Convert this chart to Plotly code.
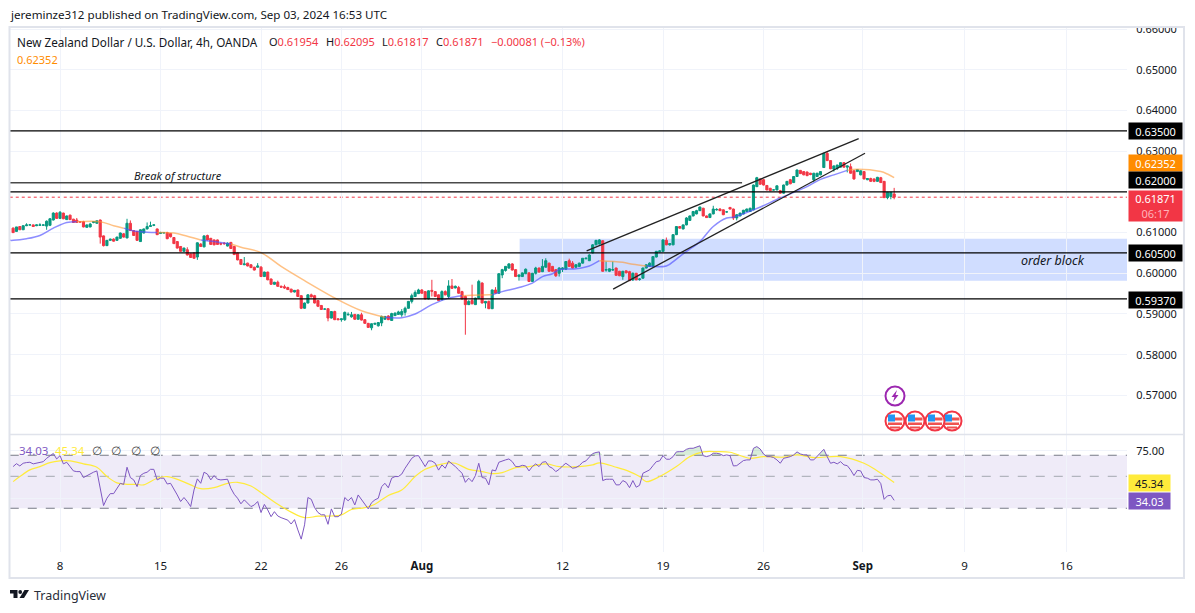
#!/usr/bin/env python3
"""NZD/USD 4h avec RSI - vue TradingView"""

import plotly.graph_objects as go
from plotly.subplots import make_subplots

# Bougies 4h (index de barre 0..263, les week-ends sont retirés)
opens = [
    0.6111, 0.6103, 0.6115, 0.6107, 0.6117, 0.6119, 0.6119, 0.6117, 0.6118, 0.6118,
    0.6116, 0.6118, 0.6131, 0.6148, 0.6135, 0.6148, 0.6132, 0.6143, 0.6133, 0.6131,
    0.6127, 0.6127, 0.6113, 0.6114, 0.6125, 0.6123, 0.6131, 0.6092, 0.6068, 0.6081,
    0.6084, 0.6081, 0.6086, 0.6097, 0.6087, 0.6123, 0.6105, 0.6103, 0.6078, 0.6099,
    0.6109, 0.6115, 0.6118, 0.6109, 0.6098, 0.6099, 0.6100, 0.6098, 0.6088, 0.6078,
    0.6066, 0.6054, 0.6058, 0.6048, 0.6050, 0.6040, 0.6072, 0.6065, 0.6093, 0.6086,
    0.6082, 0.6082, 0.6073, 0.6074, 0.6067, 0.6076, 0.6066, 0.6050, 0.6034, 0.6021,
    0.6025, 0.6021, 0.6015, 0.6015, 0.6015, 0.5992, 0.6003, 0.5986, 0.5973, 0.5978,
    0.5968, 0.5967, 0.5965, 0.5961, 0.5954, 0.5959, 0.5945, 0.5914, 0.5927, 0.5947,
    0.5945, 0.5933, 0.5921, 0.5912, 0.5913, 0.5890, 0.5906, 0.5888, 0.5886, 0.5886,
    0.5898, 0.5893, 0.5899, 0.5887, 0.5898, 0.5886, 0.5877, 0.5866, 0.5875, 0.5871,
    0.5878, 0.5887, 0.5895, 0.5884, 0.5896, 0.5899, 0.5898, 0.5904, 0.5914, 0.5931,
    0.5943, 0.5950, 0.5959, 0.5955, 0.5937, 0.5958, 0.5955, 0.5947, 0.5935, 0.5955,
    0.5943, 0.5969, 0.5964, 0.5965, 0.5955, 0.5943, 0.5923, 0.5933, 0.5923, 0.5939,
    0.5976, 0.5927, 0.5931, 0.5913, 0.5959, 0.5951, 0.5996, 0.6007, 0.6013, 0.6023,
    0.6009, 0.5992, 0.5992, 0.5999, 0.6001, 0.5980, 0.6000, 0.6013, 0.6004, 0.6015,
    0.6025, 0.6017, 0.6009, 0.6000, 0.6010, 0.6010, 0.6031, 0.6025, 0.6015, 0.6017,
    0.6025, 0.6036, 0.6031, 0.6050, 0.6070, 0.6072, 0.6080, 0.6008, 0.6005, 0.6008,
    0.6013, 0.6005, 0.5992, 0.6006, 0.6004, 0.5984, 0.6000, 0.5985, 0.5988, 0.6013,
    0.6017, 0.6017, 0.6040, 0.6053, 0.6054, 0.6081, 0.6070, 0.6070, 0.6095, 0.6115,
    0.6109, 0.6119, 0.6130, 0.6141, 0.6146, 0.6154, 0.6160, 0.6141, 0.6137, 0.6146,
    0.6156, 0.6158, 0.6156, 0.6151, 0.6162, 0.6158, 0.6136, 0.6141, 0.6146, 0.6152,
    0.6152, 0.6156, 0.6213, 0.6232, 0.6230, 0.6216, 0.6209, 0.6205, 0.6205, 0.6203,
    0.6197, 0.6217, 0.6230, 0.6223, 0.6238, 0.6253, 0.6250, 0.6249, 0.6246, 0.6230,
    0.6238, 0.6242, 0.6260, 0.6295, 0.6277, 0.6256, 0.6258, 0.6261, 0.6272, 0.6261,
    0.6262, 0.6252, 0.6250, 0.6242, 0.6250, 0.6230, 0.6233, 0.6232, 0.6226, 0.6235,
    0.6226, 0.6186, 0.6189, 0.6195,
]
highs = [
    0.6113, 0.6114, 0.6116, 0.6118, 0.6123, 0.6120, 0.6120, 0.6120, 0.6123, 0.6120,
    0.6130, 0.6136, 0.6150, 0.6150, 0.6153, 0.6149, 0.6142, 0.6144, 0.6134, 0.6136,
    0.6128, 0.6129, 0.6120, 0.6124, 0.6128, 0.6130, 0.6132, 0.6093, 0.6082, 0.6085,
    0.6086, 0.6090, 0.6100, 0.6099, 0.6134, 0.6130, 0.6106, 0.6104, 0.6108, 0.6110,
    0.6125, 0.6127, 0.6120, 0.6110, 0.6102, 0.6101, 0.6102, 0.6099, 0.6089, 0.6079,
    0.6067, 0.6063, 0.6064, 0.6049, 0.6051, 0.6076, 0.6074, 0.6093, 0.6095, 0.6087,
    0.6083, 0.6083, 0.6076, 0.6077, 0.6076, 0.6077, 0.6067, 0.6051, 0.6035, 0.6040,
    0.6026, 0.6022, 0.6016, 0.6025, 0.6018, 0.6004, 0.6004, 0.5987, 0.5979, 0.5982,
    0.5970, 0.5972, 0.5967, 0.5962, 0.5959, 0.5960, 0.5946, 0.5928, 0.5949, 0.5950,
    0.5947, 0.5934, 0.5922, 0.5914, 0.5914, 0.5907, 0.5908, 0.5890, 0.5888, 0.5906,
    0.5904, 0.5905, 0.5900, 0.5899, 0.5903, 0.5887, 0.5878, 0.5877, 0.5878, 0.5880,
    0.5896, 0.5895, 0.5897, 0.5903, 0.5904, 0.5908, 0.5912, 0.5918, 0.5932, 0.5950,
    0.5958, 0.5962, 0.5961, 0.5956, 0.5958, 0.5984, 0.5956, 0.5948, 0.5958, 0.5958,
    0.5983, 0.5986, 0.5970, 0.5969, 0.5957, 0.5945, 0.5934, 0.5972, 0.5940, 0.5984,
    0.5978, 0.5932, 0.5933, 0.5960, 0.5966, 0.6000, 0.6011, 0.6018, 0.6025, 0.6025,
    0.6010, 0.5997, 0.6002, 0.6012, 0.6003, 0.6001, 0.6016, 0.6014, 0.6035, 0.6037,
    0.6026, 0.6018, 0.6010, 0.6015, 0.6015, 0.6030, 0.6036, 0.6030, 0.6022, 0.6026,
    0.6037, 0.6039, 0.6047, 0.6072, 0.6082, 0.6084, 0.6081, 0.6029, 0.6012, 0.6029,
    0.6014, 0.6006, 0.6006, 0.6007, 0.6006, 0.6002, 0.6001, 0.5988, 0.6014, 0.6022,
    0.6027, 0.6042, 0.6055, 0.6057, 0.6084, 0.6088, 0.6074, 0.6096, 0.6116, 0.6116,
    0.6120, 0.6138, 0.6142, 0.6153, 0.6156, 0.6164, 0.6161, 0.6142, 0.6147, 0.6166,
    0.6160, 0.6160, 0.6157, 0.6153, 0.6163, 0.6159, 0.6145, 0.6149, 0.6156, 0.6159,
    0.6161, 0.6218, 0.6237, 0.6233, 0.6232, 0.6217, 0.6210, 0.6207, 0.6216, 0.6205,
    0.6218, 0.6227, 0.6232, 0.6239, 0.6255, 0.6254, 0.6251, 0.6250, 0.6247, 0.6247,
    0.6247, 0.6251, 0.6296, 0.6300, 0.6278, 0.6265, 0.6267, 0.6273, 0.6273, 0.6265,
    0.6270, 0.6253, 0.6255, 0.6253, 0.6251, 0.6234, 0.6235, 0.6233, 0.6237, 0.6237,
    0.6227, 0.6200, 0.6200, 0.6210,
]
lows = [
    0.6099, 0.6102, 0.6107, 0.6107, 0.6116, 0.6118, 0.6114, 0.6116, 0.6117, 0.6117,
    0.6107, 0.6116, 0.6130, 0.6134, 0.6134, 0.6133, 0.6131, 0.6131, 0.6124, 0.6124,
    0.6125, 0.6113, 0.6112, 0.6113, 0.6123, 0.6122, 0.6073, 0.6066, 0.6067, 0.6080,
    0.6078, 0.6080, 0.6085, 0.6088, 0.6086, 0.6104, 0.6092, 0.6080, 0.6077, 0.6098,
    0.6108, 0.6114, 0.6116, 0.6094, 0.6097, 0.6098, 0.6084, 0.6088, 0.6072, 0.6061,
    0.6053, 0.6053, 0.6044, 0.6038, 0.6036, 0.6033, 0.6065, 0.6064, 0.6081, 0.6070,
    0.6069, 0.6070, 0.6069, 0.6070, 0.6066, 0.6060, 0.6045, 0.6032, 0.6021, 0.6020,
    0.6017, 0.6013, 0.6007, 0.6014, 0.5991, 0.5991, 0.5983, 0.5972, 0.5972, 0.5967,
    0.5965, 0.5962, 0.5959, 0.5953, 0.5953, 0.5942, 0.5912, 0.5913, 0.5926, 0.5941,
    0.5926, 0.5917, 0.5910, 0.5910, 0.5882, 0.5889, 0.5885, 0.5885, 0.5881, 0.5883,
    0.5896, 0.5891, 0.5886, 0.5886, 0.5884, 0.5876, 0.5866, 0.5860, 0.5873, 0.5869,
    0.5870, 0.5886, 0.5885, 0.5883, 0.5895, 0.5898, 0.5893, 0.5896, 0.5913, 0.5926,
    0.5942, 0.5949, 0.5950, 0.5936, 0.5936, 0.5943, 0.5942, 0.5932, 0.5934, 0.5946,
    0.5937, 0.5962, 0.5963, 0.5950, 0.5936, 0.5849, 0.5922, 0.5924, 0.5922, 0.5938,
    0.5926, 0.5914, 0.5912, 0.5912, 0.5950, 0.5950, 0.5988, 0.6004, 0.6011, 0.6007,
    0.5991, 0.5982, 0.5991, 0.5998, 0.5979, 0.5979, 0.5997, 0.6002, 0.6003, 0.6014,
    0.6004, 0.6004, 0.5991, 0.5992, 0.6003, 0.6008, 0.6016, 0.6012, 0.6013, 0.6016,
    0.6024, 0.6034, 0.6030, 0.6049, 0.6069, 0.6071, 0.6004, 0.6004, 0.6003, 0.6006,
    0.5994, 0.5993, 0.5984, 0.6000, 0.5981, 0.5981, 0.5983, 0.5982, 0.5987, 0.6012,
    0.6016, 0.6016, 0.6039, 0.6052, 0.6053, 0.6069, 0.6068, 0.6069, 0.6094, 0.6110,
    0.6108, 0.6118, 0.6129, 0.6140, 0.6145, 0.6153, 0.6140, 0.6136, 0.6136, 0.6145,
    0.6154, 0.6153, 0.6143, 0.6149, 0.6157, 0.6131, 0.6130, 0.6140, 0.6145, 0.6151,
    0.6151, 0.6155, 0.6212, 0.6218, 0.6216, 0.6204, 0.6202, 0.6204, 0.6204, 0.6196,
    0.6196, 0.6216, 0.6219, 0.6222, 0.6237, 0.6244, 0.6241, 0.6239, 0.6241, 0.6224,
    0.6237, 0.6241, 0.6259, 0.6276, 0.6256, 0.6250, 0.6254, 0.6260, 0.6260, 0.6248,
    0.6245, 0.6230, 0.6249, 0.6241, 0.6231, 0.6229, 0.6225, 0.6224, 0.6225, 0.6222,
    0.6185, 0.6182, 0.6182, 0.6182,
]
closes = [
    0.6100, 0.6114, 0.6107, 0.6117, 0.6119, 0.6119, 0.6115, 0.6119, 0.6119, 0.6119,
    0.6128, 0.6134, 0.6148, 0.6135, 0.6150, 0.6134, 0.6141, 0.6132, 0.6125, 0.6125,
    0.6126, 0.6114, 0.6119, 0.6121, 0.6127, 0.6129, 0.6089, 0.6068, 0.6081, 0.6084,
    0.6079, 0.6089, 0.6099, 0.6089, 0.6123, 0.6105, 0.6093, 0.6081, 0.6107, 0.6109,
    0.6115, 0.6117, 0.6119, 0.6095, 0.6100, 0.6100, 0.6085, 0.6090, 0.6073, 0.6062,
    0.6054, 0.6062, 0.6045, 0.6039, 0.6037, 0.6075, 0.6066, 0.6092, 0.6082, 0.6071,
    0.6070, 0.6071, 0.6072, 0.6073, 0.6074, 0.6061, 0.6046, 0.6033, 0.6022, 0.6023,
    0.6018, 0.6014, 0.6008, 0.6018, 0.5992, 0.6003, 0.5984, 0.5973, 0.5978, 0.5968,
    0.5966, 0.5964, 0.5960, 0.5954, 0.5958, 0.5943, 0.5914, 0.5927, 0.5947, 0.5942,
    0.5927, 0.5919, 0.5911, 0.5912, 0.5890, 0.5906, 0.5886, 0.5886, 0.5888, 0.5904,
    0.5899, 0.5898, 0.5887, 0.5898, 0.5885, 0.5877, 0.5867, 0.5876, 0.5877, 0.5879,
    0.5894, 0.5894, 0.5886, 0.5901, 0.5902, 0.5905, 0.5906, 0.5914, 0.5931, 0.5945,
    0.5953, 0.5959, 0.5951, 0.5937, 0.5957, 0.5956, 0.5943, 0.5933, 0.5955, 0.5947,
    0.5969, 0.5963, 0.5968, 0.5951, 0.5937, 0.5923, 0.5931, 0.5925, 0.5939, 0.5980,
    0.5927, 0.5931, 0.5913, 0.5959, 0.5951, 0.5999, 0.6009, 0.6017, 0.6023, 0.6008,
    0.5992, 0.5996, 0.6001, 0.6010, 0.5980, 0.6000, 0.6013, 0.6003, 0.6017, 0.6031,
    0.6005, 0.6005, 0.5994, 0.6013, 0.6013, 0.6029, 0.6017, 0.6013, 0.6021, 0.6025,
    0.6037, 0.6037, 0.6045, 0.6070, 0.6081, 0.6082, 0.6005, 0.6009, 0.6011, 0.6009,
    0.5995, 0.5994, 0.6005, 0.6001, 0.5982, 0.6000, 0.5984, 0.5986, 0.6013, 0.6021,
    0.6025, 0.6041, 0.6054, 0.6055, 0.6082, 0.6070, 0.6073, 0.6095, 0.6115, 0.6111,
    0.6119, 0.6136, 0.6141, 0.6152, 0.6154, 0.6163, 0.6141, 0.6137, 0.6146, 0.6158,
    0.6157, 0.6154, 0.6144, 0.6151, 0.6158, 0.6136, 0.6144, 0.6148, 0.6155, 0.6158,
    0.6160, 0.6217, 0.6235, 0.6219, 0.6217, 0.6205, 0.6203, 0.6205, 0.6215, 0.6197,
    0.6217, 0.6226, 0.6220, 0.6238, 0.6254, 0.6245, 0.6242, 0.6240, 0.6243, 0.6246,
    0.6246, 0.6250, 0.6295, 0.6277, 0.6257, 0.6264, 0.6266, 0.6272, 0.6261, 0.6264,
    0.6246, 0.6232, 0.6255, 0.6252, 0.6232, 0.6233, 0.6226, 0.6226, 0.6236, 0.6223,
    0.6186, 0.6199, 0.6199, 0.6187,
]

# Moyenne mobile : bleue sous le prix, orange au-dessus (None = coupure)
ma_blue_bars = [-1, 0, 4, 8, 12, 16, 19, None, 33, 36, 40, 43, None, 56, 60, 64, 65, None,
                111, 116, 120, 125, 130, 134, None, 143, 146, 151, 155, 158, 161, 163, 168, 172, 175, None,
                189, 195, 198, 201, 205, 209, 213, 215, 221, 229, 237, 241, 245, 249]
ma_blue_vals = [0.6081, 0.6081, 0.6085, 0.6093, 0.6111, 0.6125, 0.6127, None, 0.6111, 0.6104, 0.6101, 0.6100, None,
                0.6082, 0.6078, 0.6073, 0.6072, None,
                0.5892, 0.5891, 0.5900, 0.5923, 0.5939, 0.5945, None,
                0.5947, 0.5955, 0.5965, 0.5976, 0.5992, 0.5999, 0.6009, 0.6011, 0.6018, 0.6031, None,
                0.6018, 0.6018, 0.6035, 0.6054, 0.6078, 0.6115, 0.6136, 0.6138, 0.6156, 0.6185, 0.6213, 0.6231, 0.6242, 0.6253]
ma_orange_bars = [19, 26, 30, 33, None, 43, 48, 52, 56, None, 65, 68, 74, 80, 87, 97, 104, 111, None,
                  134, 142, 143, None, 175, 182, 185, 189, None, 249, 252, 259, 261, 263]
ma_orange_vals = [0.6127, 0.6127, 0.6117, 0.6111, None, 0.6100, 0.6099, 0.6091, 0.6082, None,
                  0.6072, 0.6064, 0.6051, 0.6017, 0.5982, 0.5935, 0.5908, 0.5892, None,
                  0.5945, 0.5947, 0.5947, None, 0.6031, 0.6027, 0.6022, 0.6018, None,
                  0.6253, 0.6256, 0.6250, 0.6244, 0.62352]

# Niveaux et dessins
level_prices = [0.635, 0.62, 0.605, 0.5937]
last_close = 0.61871
bos_bars = [-1, 217.6]
bos_prices = [0.62224, 0.62224]
channel_up_bars = [171.2, 252.4]
channel_up_prices = [0.6055, 0.6331]
channel_low_bars = [179.1, 254.3]
channel_low_prices = [0.5961, 0.6295]
block_bars = [151.2, 332.5]
block_prices = [0.5982, 0.6085]

# RSI et sa moyenne
rsi_values = [
    58.4, 61.2, 59.0, 61.6, 62.3, 62.6, 61.0, 61.6, 62.0, 63.2,
    66.7, 69.6, 72.0, 66.0, 69.6, 61.0, 62.6, 58.4, 54.5, 53.9,
    53.9, 49.0, 50.6, 52.0, 53.4, 54.5, 41.3, 31.3, 35.2, 37.9,
    37.9, 41.3, 44.7, 43.9, 57.8, 49.0, 47.2, 42.4, 50.6, 52.5,
    53.4, 55.9, 55.9, 47.2, 48.5, 48.5, 44.2, 44.7, 40.2, 37.1,
    33.4, 35.6, 33.4, 30.8, 40.2, 48.0, 44.7, 53.4, 51.8, 47.2,
    50.6, 47.7, 47.2, 47.2, 47.7, 41.3, 37.5, 35.2, 32.2, 34.3,
    32.5, 30.8, 31.6, 33.4, 28.0, 31.9, 29.2, 26.2, 28.4, 26.5,
    25.8, 25.2, 24.8, 23.3, 25.0, 21.2, 18.3, 23.0, 35.6, 34.6,
    30.3, 28.0, 27.0, 27.0, 23.2, 29.7, 26.2, 26.2, 27.3, 35.6,
    33.8, 35.6, 31.6, 37.1, 34.3, 32.0, 29.7, 32.8, 34.3, 35.2,
    42.4, 44.7, 41.6, 48.5, 49.8, 49.8, 51.8, 56.9, 62.3, 66.7,
    69.3, 69.6, 63.8, 58.4, 64.0, 63.8, 61.6, 55.2, 60.0, 56.9,
    63.8, 61.2, 58.4, 55.4, 52.5, 45.4, 48.5, 45.9, 50.6, 61.6,
    49.0, 48.5, 43.6, 55.4, 54.5, 62.6, 64.0, 65.0, 66.0, 63.2,
    58.4, 58.4, 59.6, 59.0, 54.5, 58.4, 61.0, 58.4, 62.6, 63.2,
    58.4, 56.9, 53.9, 55.9, 59.0, 61.6, 59.3, 56.9, 57.5, 59.3,
    62.6, 64.0, 67.9, 71.9, 73.2, 73.9, 46.7, 47.7, 47.7, 47.7,
    43.6, 43.6, 46.7, 45.4, 41.7, 46.7, 42.0, 43.3, 52.5, 53.9,
    55.4, 59.3, 63.2, 64.0, 69.6, 65.7, 65.7, 68.5, 73.9, 74.2,
    74.2, 77.0, 78.3, 78.3, 79.5, 81.4, 69.6, 68.5, 69.6, 72.3,
    72.3, 71.5, 69.6, 70.4, 69.6, 59.0, 59.3, 61.6, 64.3, 65.0,
    65.0, 78.3, 80.4, 77.4, 71.5, 68.5, 68.5, 67.5, 65.0, 61.6,
    66.7, 67.5, 68.5, 70.4, 73.9, 71.5, 70.4, 70.4, 65.0, 65.0,
    68.5, 72.3, 77.0, 68.5, 61.6, 62.6, 61.0, 63.2, 60.0, 59.3,
    55.4, 50.6, 55.0, 54.5, 49.0, 48.5, 47.2, 47.2, 47.7, 44.5,
    34.6, 36.6, 36.9, 34.03,
]
rsi_ma_bars = [0, 2, 5, 8, 11, 14, 17, 21, 25, 28, 31, 34, 37, 39, 43, 46, 50, 53, 56, 60,
               64, 67, 71, 75, 79, 83, 87, 91, 95, 98, 101, 105, 108, 112, 116, 120, 123, 127, 130,
               132, 136, 140, 143, 146, 150, 154, 159, 163, 169, 173, 175, 180, 184, 187, 189, 193,
               198, 202, 206, 210, 214, 218, 220, 224, 230, 234, 239, 247, 254, 258, 263]
rsi_ma_vals = [45.9, 49.8, 55.4, 58.4, 62.3, 64.0, 64.0, 61.0, 57.8, 49.8, 45.0, 44.0, 43.9, 43.6, 48.5, 49.8, 46.7, 43.6, 41.0, 41.7,
               44.7, 45.4, 42.8, 37.1, 32.0, 28.2, 25.8, 26.4, 26.5, 27.0, 29.4, 30.3, 32.0, 36.8, 40.2, 49.8, 55.9, 60.0, 62.0,
               61.6, 55.9, 53.9, 52.2, 53.0, 57.5, 58.4, 61.0, 58.4, 58.4, 60.0, 62.0, 57.8, 53.9, 49.8, 45.9, 49.8,
               58.4, 68.5, 73.9, 74.2, 73.5, 68.5, 66.7, 68.5, 67.9, 70.4, 67.5, 68.5, 61.6, 54.5, 45.34]
rsi_upper = 70
rsi_middle = 50
rsi_lower = 30

# Axes
tick_bars = [14, 44, 74, 98, 122, 164, 194, 224, 253.6, 284, 314.4]
tick_labels = ["8", "15", "22", "26", "<b>Aug</b>", "12", "19", "26", "<b>Sep</b>", "9", "16"]
price_ticks = [0.66, 0.65, 0.64, 0.63, 0.62, 0.61, 0.60, 0.59, 0.58, 0.57]
price_tick_labels = ["0.66000", "0.65000", "0.64000", "0.63000", "", "0.61000", "0.60000", "0.59000", "0.58000", "0.57000"]

assert len(opens) == len(highs) == len(lows) == len(closes) == len(rsi_values) == 264

GREEN = "#089981"
RED = "#f23645"
TEXT = "#131722"
GRID = "#f0f3fa"
BORDER = "#e0e3eb"
PURPLE = "#7e57c2"
YELLOW = "#ffeb3b"
ORANGE = "#ff8c00"
FONT = "Noto Sans"


def px_x(x):
    """Pixel écran -> coordonnée papier"""
    return (x - 10) / 1117


def px_y(y):
    return (552 - y) / 524


def rect(x0, y0, x1, y1, **kw):
    return dict(type="rect", xref="paper", yref="paper", x0=px_x(x0), x1=px_x(x1),
                y0=px_y(y0), y1=px_y(y1), layer="above", **kw)


def circle(cx, cy, r, **kw):
    return dict(type="circle", xref="paper", yref="paper", x0=px_x(cx - r), x1=px_x(cx + r),
                y0=px_y(cy - r), y1=px_y(cy + r), layer="above", **kw)


def poly(points, color):
    path = "M " + " L ".join(f"{px_x(x)} {px_y(y)}" for x, y in points) + " Z"
    return dict(type="path", xref="paper", yref="paper", path=path, fillcolor=color,
                line=dict(width=0), layer="above")


def flag_icon(cx, cy):
    """Pastille drapeau US du calendrier éco"""
    no_line = dict(width=0)
    return [
        circle(cx, cy, 9.5, fillcolor="white", line=dict(color=RED, width=2)),
        rect(cx - 7, cy + 1.5, cx + 7, cy + 4, fillcolor="#ef5350", line=no_line),
        rect(cx - 5, cy + 5.5, cx + 5, cy + 7.5, fillcolor="#ef5350", line=no_line),
        rect(cx, cy - 3.5, cx + 7.5, cy - 0.5, fillcolor="#ef5350", line=no_line),
        rect(cx - 7, cy - 6.5, cx, cy + 0.5, fillcolor="#2196f3", line=no_line),
    ]


def tag(y, text, bg, color="white", width=53, height=16, x=1128):
    return dict(xref="paper", yref="paper", x=px_x(x), y=px_y(y), xanchor="left", yanchor="middle",
                text=text, showarrow=False, bgcolor=bg, width=width, height=height, align="center",
                borderpad=0, font=dict(family=FONT, size=11, color=color))


def label(x, y, text, size=11, color=TEXT):
    return dict(xref="paper", yref="paper", x=px_x(x), y=px_y(y), xanchor="left", yanchor="middle",
                text=text, showarrow=False, font=dict(family=FONT, size=size, color=color))


bars = list(range(len(closes)))
fig = make_subplots(rows=2, cols=1, shared_xaxes=True, vertical_spacing=0)

# Pane prix
fig.add_trace(go.Candlestick(
    x=bars, open=opens, high=highs, low=lows, close=closes,
    increasing=dict(line=dict(color=GREEN, width=1), fillcolor=GREEN),
    decreasing=dict(line=dict(color=RED, width=1), fillcolor=RED),
    whiskerwidth=0, showlegend=False,
), row=1, col=1)
fig.add_trace(go.Scatter(x=ma_blue_bars, y=ma_blue_vals, mode="lines", showlegend=False,
                         line=dict(color="rgba(80,80,255,0.65)", width=1.5, shape="spline")), row=1, col=1)
fig.add_trace(go.Scatter(x=ma_orange_bars, y=ma_orange_vals, mode="lines", showlegend=False,
                         line=dict(color="rgba(255,152,50,0.6)", width=1.5, shape="spline")), row=1, col=1)
fig.add_trace(go.Scatter(x=bos_bars, y=bos_prices, mode="lines", showlegend=False,
                         line=dict(color="#4a4a4a", width=1.5)), row=1, col=1)
fig.add_trace(go.Scatter(x=channel_up_bars, y=channel_up_prices, mode="lines", showlegend=False,
                         line=dict(color="#222222", width=1.3)), row=1, col=1)
fig.add_trace(go.Scatter(x=channel_low_bars, y=channel_low_prices, mode="lines", showlegend=False,
                         line=dict(color="#222222", width=1.3)), row=1, col=1)

# Pane RSI
rsi_clipped = [max(v, rsi_upper) for v in rsi_values]
fig.add_trace(go.Scatter(x=bars, y=[rsi_upper] * len(bars), mode="lines", showlegend=False,
                         line=dict(width=0, color="rgba(0,0,0,0)")), row=2, col=1)
fig.add_trace(go.Scatter(x=bars, y=rsi_clipped, mode="lines", showlegend=False, fill="tonexty",
                         fillcolor="rgba(76,175,80,0.22)",
                         line=dict(width=0, color="rgba(0,0,0,0)")), row=2, col=1)
fig.add_trace(go.Scatter(x=rsi_ma_bars, y=rsi_ma_vals, mode="lines", showlegend=False,
                         line=dict(color=YELLOW, width=1.2, shape="spline")), row=2, col=1)
fig.add_trace(go.Scatter(x=bars, y=rsi_values, mode="lines", showlegend=False,
                         line=dict(color=PURPLE, width=1)), row=2, col=1)

# Bloc, niveaux, ligne de prix
fig.add_shape(type="rect", x0=block_bars[0], x1=block_bars[1], y0=block_prices[0], y1=block_prices[1],
              fillcolor="rgba(41,98,255,0.22)", line=dict(width=0), layer="below", row=1, col=1)
for level in level_prices:
    fig.add_shape(type="line", x0=-1, x1=332.5, y0=level, y1=level, line=dict(color="black", width=1.2),
                  layer="above", row=1, col=1)
fig.add_shape(type="line", x0=-1, x1=332.5, y0=last_close, y1=last_close,
              line=dict(color=RED, width=1, dash="dot"), layer="below", row=1, col=1)

# Bandes RSI
fig.add_shape(type="rect", x0=-1, x1=332.5, y0=rsi_lower, y1=rsi_upper, fillcolor="rgba(126,87,194,0.12)",
              line=dict(width=0), layer="below", row=2, col=1)
for level, color in [(rsi_upper, "#787b86"), (rsi_middle, "#b2b5be"), (rsi_lower, "#787b86")]:
    fig.add_shape(type="line", x0=-1, x1=332.5, y0=level, y1=level, line=dict(color=color, width=1.2, dash="dash"),
                  layer="below", row=2, col=1)

# Cadre, séparateur, cache du haut de l'échelle
fig.add_shape(rect(1128, 18, 1183, 27.5, fillcolor="white", line=dict(width=0)))
fig.add_shape(rect(9.5, 27, 1184, 578, line=dict(color=BORDER, width=2)))
fig.add_shape(dict(type="line", xref="paper", yref="paper", x0=px_x(10), x1=px_x(1184), y0=px_y(434.5), y1=px_y(434.5),
                   line=dict(color=BORDER, width=1.5), layer="above"))

# Icônes calendrier
fig.add_shape(circle(895, 396, 9.5, fillcolor="white", line=dict(color="#9c27b0", width=2)))
fig.add_shape(poly([(897, 390), (891.5, 397), (894.5, 397), (893, 402), (898.5, 395), (895.5, 395)], "#9c27b0"))
for cx in [952, 935, 915, 895]:
    for icon in flag_icon(cx, 421):
        fig.add_shape(icon)

# Logo TradingView
fig.add_shape(poly([(10, 590), (17.5, 590), (17.5, 598), (13.5, 598), (13.5, 593.5), (10, 593.5)], TEXT))
fig.add_shape(circle(20.2, 592, 1.9, fillcolor=TEXT, line=dict(width=0)))
fig.add_shape(poly([(24.5, 590), (29, 590), (24, 598), (19.5, 598)], TEXT))

annotations = [
    label(8, 15, "jereminze312 published on TradingView.com, Sep 03, 2024 16:53 UTC", size=11.6),
    label(15, 42, "New Zealand Dollar / U.S. Dollar, 4h, OANDA", size=11.7),
    label(266.5, 42, "O<span style='color:#f23645'>0.61954</span>"),
    label(323.5, 42, "H<span style='color:#f23645'>0.62095</span>"),
    label(379.5, 42, "L<span style='color:#f23645'>0.61817</span>"),
    label(433.5, 42, "C<span style='color:#f23645'>0.61871</span>"),
    label(488.5, 42, "−0.00081 (−0.13%)", color=RED),
    label(15, 59, "0.62352", color=ORANGE),
    label(132, 175, "<i>Break of structure</i>", size=11),
    label(1019, 260, "<i>order block</i>", size=12.5),
    label(17, 450, "34.03", size=11.5, color=PURPLE),
    label(53, 450, "45.34", size=11.5, color=YELLOW),
    label(90, 450, "∅", size=11.5, color="#4a4a4a"),
    label(109, 450, "∅", size=11.5, color="#4a4a4a"),
    label(129, 450, "∅", size=11.5, color="#4a4a4a"),
    label(148, 450, "∅", size=11.5, color="#4a4a4a"),
    label(31.5, 595, "TradingView", size=12.5, color="#2a2e39"),
    tag(131.5, "0.63500", "black"),
    tag(163, "0.62352", ORANGE),
    tag(180.5, "0.62000", "black"),
    tag(205.5, "0.61871<br><span style='color:#ffb3ba'>06:17</span>", RED, height=30),
    tag(253.5, "0.60500", "black"),
    tag(299.5, "0.59370", "black"),
    tag(482.5, "45.34", YELLOW, color=TEXT, width=41),
    tag(500.5, "34.03", PURPLE, width=41),
]

fig.update_layout(
    width=1195, height=613,
    margin=dict(l=10, r=68, t=28, b=61),
    paper_bgcolor="white", plot_bgcolor="white",
    font=dict(family=FONT, size=11, color=TEXT),
    hovermode=False, showlegend=False,
    annotations=annotations,
    boxgap=0.1,
)
fig.update_xaxes(range=[-0.93, 332.5], showgrid=True, gridcolor=GRID, gridwidth=1, zeroline=False,
                 showline=False, ticks="outside", ticklen=3, tickcolor="rgba(0,0,0,0)", tickmode="array",
                 tickvals=tick_bars, ticktext=tick_labels,
                 rangeslider_visible=False, tickfont=dict(family=FONT, size=11.5, color=TEXT))
fig.update_yaxes(domain=[0.2252, 1.0], range=[0.5605, 0.6603], side="right", showgrid=True, gridcolor=GRID,
                 zeroline=False, showline=False, ticks="outside", ticklen=6, tickcolor="rgba(0,0,0,0)",
                 tickmode="array", tickvals=price_ticks, ticktext=price_tick_labels, automargin=False,
                 tickfont=dict(family=FONT, size=11, color=TEXT), row=1, col=1)
fig.update_yaxes(type="log", domain=[0.0, 0.2233], range=[1.173, 1.986], side="right", showgrid=True, gridcolor=GRID,
                 zeroline=False, showline=False, ticks="outside", ticklen=6, tickcolor="rgba(0,0,0,0)",
                 tickmode="array", tickvals=[75, 35], ticktext=["75.00", ""],
                 automargin=False, tickfont=dict(family=FONT, size=11, color=TEXT), row=2, col=1)

fig.write_html("out.html", config={"displayModeBar": False},
               post_script="document.body.style.margin='0';document.body.style.overflow='hidden';")
